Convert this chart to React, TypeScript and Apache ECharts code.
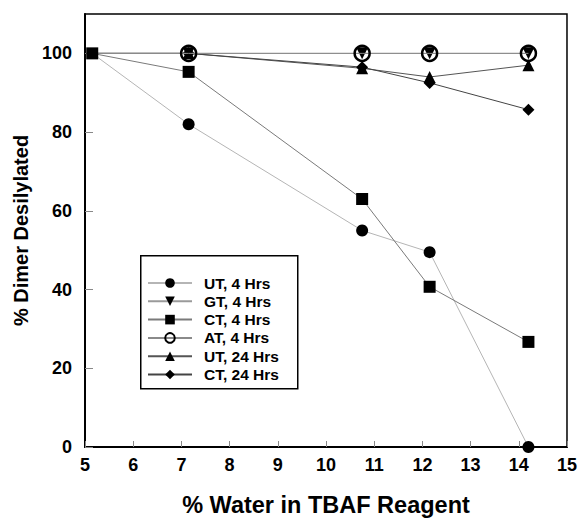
import React, { useEffect, useRef } from "react";
import * as echarts from "echarts";

const xWater = [5.15, 7.15, 10.75, 12.15, 14.2];
const utFour = [100, 82, 55, 49.5, 0];
const gtFour = [100, 100, 100, 100, 100];
const ctFour = [100, 95.3, 63, 40.7, 26.7];
const atFour = [100, 100, 100, 100, 100];
const utTwentyFour = [100, 100, 96.2, 94, 97];
const ctTwentyFour = [100, 100, 96.5, 92.5, 85.7];
const seriesNames = ["UT, 4 Hrs", "GT, 4 Hrs", "CT, 4 Hrs", "AT, 4 Hrs", "UT, 24 Hrs", "CT, 24 Hrs"];

const FONT = "'Liberation Sans', Arial, sans-serif";

function pairs(ys: number[], hideFirst: boolean) {
  return xWater.map((x, i) =>
    i === 0 && hideFirst ? { value: [x, ys[i]], symbol: "none" } : { value: [x, ys[i]] }
  );
}

export default function App() {
  const ref = useRef<HTMLDivElement>(null);
  useEffect(() => {
    if (!ref.current) return;
    const chart = echarts.init(ref.current, undefined, { renderer: "svg" });
    const mk = (
      name: string,
      ys: number[],
      symbol: string,
      size: number,
      lineColor: string,
      z: number,
      hideFirst: boolean,
      extra: any = {}
    ) => ({
      name,
      type: "line",
      data: pairs(ys, hideFirst),
      symbol,
      symbolSize: size,
      showAllSymbol: true,
      lineStyle: { color: lineColor, width: 1 },
      itemStyle: { color: "#000", borderColor: "#000", borderWidth: 0 },
      z,
      ...extra,
    });
    chart.setOption({
      animation: false,
      backgroundColor: "#fff",
      grid: {
        left: 85,
        right: 12,
        top: 14,
        bottom: 68,
        show: true,
        borderColor: "#000",
        borderWidth: 1.5,
        backgroundColor: "transparent",
      },
      xAxis: {
        type: "value",
        min: 5,
        max: 15,
        interval: 1,
        name: "% Water in TBAF Reagent",
        nameLocation: "middle",
        nameGap: 46,
        nameTextStyle: { fontFamily: FONT, fontWeight: "bold", fontSize: 23.5, color: "#000" },
        axisLine: { show: true, lineStyle: { color: "#000", width: 2 } },
        axisTick: { show: true, inside: true, length: 6, lineStyle: { color: "#888", width: 1 } },
        axisLabel: { fontFamily: FONT, fontWeight: "bold", fontSize: 18, color: "#000", margin: 9 },
        splitLine: { show: false },
      },
      yAxis: {
        type: "value",
        min: 0,
        max: 110,
        interval: 20,
        name: "% Dimer Desilylated",
        nameLocation: "middle",
        nameGap: 52,
        nameTextStyle: { fontFamily: FONT, fontWeight: "bold", fontSize: 20, color: "#000" },
        axisLine: { show: true, lineStyle: { color: "#000", width: 2 } },
        axisTick: { show: true, inside: true, length: 8, lineStyle: { color: "#888", width: 1 } },
        axisLabel: {
          fontFamily: FONT,
          fontWeight: "bold",
          fontSize: 18,
          color: "#000",
          margin: 13,
          showMaxLabel: false,
          formatter: (v: number) => (v > 100 ? "" : String(v)),
        },
        splitLine: { show: false },
      },
      legend: {
        left: 147,
        top: 275,
        orient: "vertical",
        itemWidth: 44,
        itemHeight: 12,
        itemGap: 2.3,
        padding: 0,
        data: seriesNames,
        textStyle: {
          fontFamily: FONT,
          fontWeight: "bold",
          fontSize: 15.5,
          color: "#000",
          lineHeight: 12,
          padding: [0, 0, 0, 7],
        },
      },
      graphic: [
        {
          type: "rect",
          left: 140,
          top: 255,
          shape: { width: 157, height: 133 },
          style: { fill: "#fff", stroke: "#000", lineWidth: 1.5 },
          z: 0,
          silent: true,
        },
      ],
      series: [
        mk(seriesNames[0], utFour, "circle", 12, "#b5b5b5", 3, true),
        mk(seriesNames[1], gtFour, "triangle", 12, "#9a9a9a", 4, true, { symbolRotate: 180 }),
        mk(seriesNames[2], ctFour, "rect", 12, "#7a7a7a", 6, false),
        mk(seriesNames[3], atFour, "circle", 15, "#8a8a8a", 5, true, {
          itemStyle: { color: "none", borderColor: "#000", borderWidth: 2.5 },
        }),
        mk(seriesNames[4], utTwentyFour, "triangle", 12, "#555", 3, true),
        mk(seriesNames[5], ctTwentyFour, "diamond", 12, "#444", 3, true),
      ],
    });
    return () => chart.dispose();
  }, []);
  return (
    <div
      ref={ref}
      style={{ position: "absolute", left: 0, top: 0, width: 580, height: 522 }}
    />
  );
}
